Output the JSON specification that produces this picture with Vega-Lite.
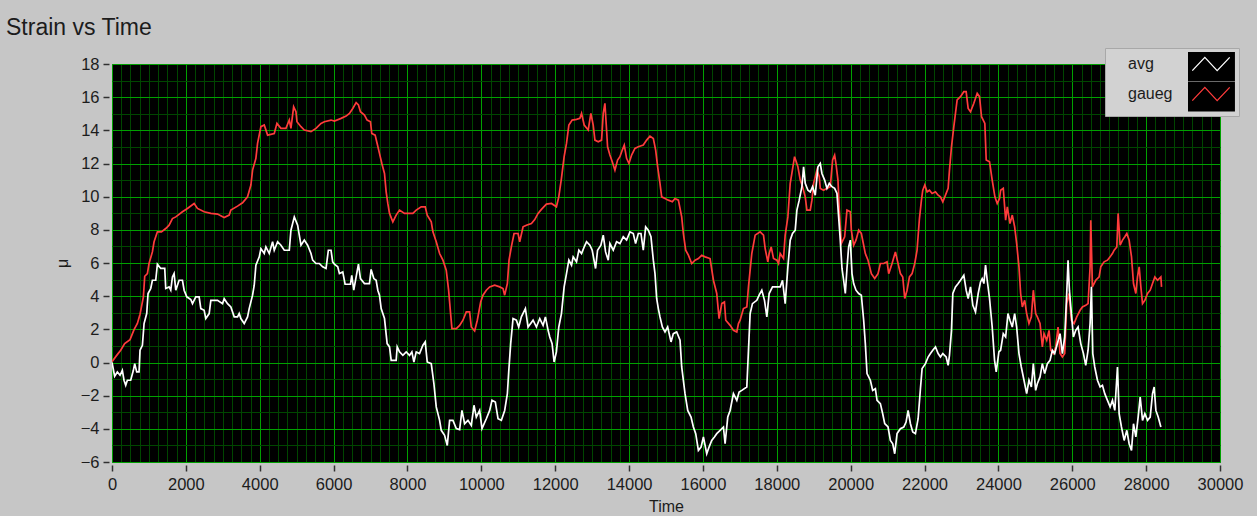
{
"$schema": "https://vega.github.io/schema/vega-lite/v6.json",
"width": 1108, "height": 398,
"autosize": {"type": "none"},
"padding": {"left": 112, "top": 64, "right": 37, "bottom": 54},
"background": "#c6c6c6",
"title": {"text": "Strain vs Time", "anchor": "start", "frame": "group", "dx": -106, "offset": 8, "fontSize": 23, "fontWeight": "normal", "color": "#1c1c1c", "font": "Liberation Sans"},
"config": {"view": {"fill": "black", "stroke": "#505050", "strokeWidth": 1}, "font": "Liberation Sans"},
"data": {"values": [
{"t":0,"v":0.05,"s":"gaueg"},{"t":127,"v":0.43,"s":"gaueg"},{"t":235,"v":0.74,"s":"gaueg"},{"t":343,"v":1.14,"s":"gaueg"},{"t":488,"v":1.38,"s":"gaueg"},{"t":597,"v":1.98,"s":"gaueg"},{"t":687,"v":2.35,"s":"gaueg"},{"t":759,"v":2.91,"s":"gaueg"},{"t":850,"v":3.96,"s":"gaueg"},{"t":886,"v":5.2,"s":"gaueg"},{"t":958,"v":5.36,"s":"gaueg"},{"t":1003,"v":5.97,"s":"gaueg"},{"t":1094,"v":6.67,"s":"gaueg"},{"t":1139,"v":7.28,"s":"gaueg"},{"t":1229,"v":7.88,"s":"gaueg"},{"t":1338,"v":7.88,"s":"gaueg"},{"t":1455,"v":8.08,"s":"gaueg"},{"t":1546,"v":8.28,"s":"gaueg"},{"t":1636,"v":8.68,"s":"gaueg"},{"t":1727,"v":8.78,"s":"gaueg"},{"t":1907,"v":9.09,"s":"gaueg"},{"t":2043,"v":9.29,"s":"gaueg"},{"t":2224,"v":9.59,"s":"gaueg"},{"t":2314,"v":9.29,"s":"gaueg"},{"t":2495,"v":9.09,"s":"gaueg"},{"t":2676,"v":8.99,"s":"gaueg"},{"t":2857,"v":8.95,"s":"gaueg"},{"t":3037,"v":8.74,"s":"gaueg"},{"t":3173,"v":8.89,"s":"gaueg"},{"t":3218,"v":9.19,"s":"gaueg"},{"t":3399,"v":9.43,"s":"gaueg"},{"t":3535,"v":9.63,"s":"gaueg"},{"t":3670,"v":9.99,"s":"gaueg"},{"t":3761,"v":10.7,"s":"gaueg"},{"t":3806,"v":11.6,"s":"gaueg"},{"t":3896,"v":12.31,"s":"gaueg"},{"t":3941,"v":13.21,"s":"gaueg"},{"t":4032,"v":14.22,"s":"gaueg"},{"t":4122,"v":14.32,"s":"gaueg"},{"t":4213,"v":13.71,"s":"gaueg"},{"t":4393,"v":13.81,"s":"gaueg"},{"t":4466,"v":14.42,"s":"gaueg"},{"t":4574,"v":14.12,"s":"gaueg"},{"t":4710,"v":14.12,"s":"gaueg"},{"t":4800,"v":14.62,"s":"gaueg"},{"t":4845,"v":14.12,"s":"gaueg"},{"t":4918,"v":15.42,"s":"gaueg"},{"t":4981,"v":15.12,"s":"gaueg"},{"t":5008,"v":14.52,"s":"gaueg"},{"t":5117,"v":14.22,"s":"gaueg"},{"t":5207,"v":14.02,"s":"gaueg"},{"t":5388,"v":13.92,"s":"gaueg"},{"t":5523,"v":14.12,"s":"gaueg"},{"t":5659,"v":14.42,"s":"gaueg"},{"t":5749,"v":14.52,"s":"gaueg"},{"t":5930,"v":14.62,"s":"gaueg"},
{"t":6022,"v":14.56,"s":"gaueg"},{"t":6203,"v":14.72,"s":"gaueg"},{"t":6338,"v":14.86,"s":"gaueg"},{"t":6429,"v":15.02,"s":"gaueg"},{"t":6519,"v":15.32,"s":"gaueg"},{"t":6610,"v":15.67,"s":"gaueg"},{"t":6673,"v":15.53,"s":"gaueg"},{"t":6727,"v":15.12,"s":"gaueg"},{"t":6836,"v":14.92,"s":"gaueg"},{"t":6908,"v":14.62,"s":"gaueg"},{"t":6998,"v":14.52,"s":"gaueg"},{"t":7034,"v":13.81,"s":"gaueg"},{"t":7125,"v":13.71,"s":"gaueg"},{"t":7179,"v":13.21,"s":"gaueg"},{"t":7242,"v":12.61,"s":"gaueg"},{"t":7306,"v":12.0,"s":"gaueg"},{"t":7378,"v":11.4,"s":"gaueg"},{"t":7423,"v":10.29,"s":"gaueg"},{"t":7468,"v":9.59,"s":"gaueg"},{"t":7514,"v":8.99,"s":"gaueg"},{"t":7604,"v":8.48,"s":"gaueg"},{"t":7694,"v":8.89,"s":"gaueg"},{"t":7785,"v":9.19,"s":"gaueg"},{"t":7920,"v":8.99,"s":"gaueg"},{"t":8146,"v":8.99,"s":"gaueg"},{"t":8237,"v":9.19,"s":"gaueg"},{"t":8372,"v":9.39,"s":"gaueg"},{"t":8481,"v":9.39,"s":"gaueg"},{"t":8535,"v":8.89,"s":"gaueg"},{"t":8644,"v":8.48,"s":"gaueg"},{"t":8689,"v":7.88,"s":"gaueg"},{"t":8779,"v":7.28,"s":"gaueg"},{"t":8870,"v":6.57,"s":"gaueg"},{"t":8960,"v":6.17,"s":"gaueg"},{"t":9050,"v":5.57,"s":"gaueg"},{"t":9114,"v":4.36,"s":"gaueg"},{"t":9168,"v":2.95,"s":"gaueg"},{"t":9204,"v":2.04,"s":"gaueg"},{"t":9322,"v":2.04,"s":"gaueg"},{"t":9412,"v":2.24,"s":"gaueg"},{"t":9502,"v":2.55,"s":"gaueg"},{"t":9593,"v":3.05,"s":"gaueg"},{"t":9683,"v":3.05,"s":"gaueg"},{"t":9728,"v":2.14,"s":"gaueg"},{"t":9819,"v":1.9,"s":"gaueg"},{"t":9891,"v":2.55,"s":"gaueg"},{"t":9982,"v":3.65,"s":"gaueg"},{"t":10045,"v":4.06,"s":"gaueg"},{"t":10135,"v":4.36,"s":"gaueg"},{"t":10226,"v":4.56,"s":"gaueg"},{"t":10361,"v":4.66,"s":"gaueg"},{"t":10497,"v":4.56,"s":"gaueg"},{"t":10587,"v":4.46,"s":"gaueg"},{"t":10632,"v":4.06,"s":"gaueg"},{"t":10705,"v":4.76,"s":"gaueg"},{"t":10750,"v":6.17,"s":"gaueg"},{"t":10813,"v":6.97,"s":"gaueg"},{"t":10886,"v":7.78,"s":"gaueg"},{"t":10994,"v":7.78,"s":"gaueg"},{"t":11039,"v":7.28,"s":"gaueg"},{"t":11130,"v":8.18,"s":"gaueg"},{"t":11220,"v":8.28,"s":"gaueg"},{"t":11356,"v":8.38,"s":"gaueg"},{"t":11446,"v":8.62,"s":"gaueg"},{"t":11536,"v":8.99,"s":"gaueg"},{"t":11627,"v":9.23,"s":"gaueg"},{"t":11762,"v":9.55,"s":"gaueg"},{"t":11898,"v":9.59,"s":"gaueg"},{"t":12033,"v":9.39,"s":"gaueg"},{"t":12097,"v":9.99,"s":"gaueg"},{"t":12169,"v":11.1,"s":"gaueg"},{"t":12242,"v":12.41,"s":"gaueg"},
{"t":12306,"v":13.21,"s":"gaueg"},{"t":12370,"v":14.32,"s":"gaueg"},{"t":12460,"v":14.62,"s":"gaueg"},{"t":12577,"v":14.66,"s":"gaueg"},{"t":12668,"v":14.72,"s":"gaueg"},{"t":12713,"v":15.02,"s":"gaueg"},{"t":12785,"v":14.32,"s":"gaueg"},{"t":12894,"v":14.02,"s":"gaueg"},{"t":12966,"v":15.02,"s":"gaueg"},{"t":13029,"v":14.32,"s":"gaueg"},{"t":13075,"v":13.41,"s":"gaueg"},{"t":13165,"v":13.31,"s":"gaueg"},{"t":13255,"v":13.41,"s":"gaueg"},{"t":13301,"v":15.02,"s":"gaueg"},{"t":13346,"v":15.63,"s":"gaueg"},{"t":13391,"v":14.02,"s":"gaueg"},{"t":13418,"v":13.01,"s":"gaueg"},{"t":13481,"v":12.51,"s":"gaueg"},{"t":13545,"v":12.1,"s":"gaueg"},{"t":13617,"v":11.6,"s":"gaueg"},{"t":13689,"v":12.21,"s":"gaueg"},{"t":13753,"v":12.41,"s":"gaueg"},{"t":13816,"v":12.81,"s":"gaueg"},{"t":13870,"v":13.11,"s":"gaueg"},{"t":13933,"v":12.31,"s":"gaueg"},{"t":13997,"v":12.0,"s":"gaueg"},{"t":14069,"v":12.51,"s":"gaueg"},{"t":14159,"v":12.91,"s":"gaueg"},{"t":14250,"v":13.01,"s":"gaueg"},{"t":14385,"v":13.11,"s":"gaueg"},{"t":14476,"v":13.41,"s":"gaueg"},{"t":14566,"v":13.65,"s":"gaueg"},{"t":14657,"v":13.51,"s":"gaueg"},{"t":14720,"v":12.81,"s":"gaueg"},{"t":14774,"v":11.8,"s":"gaueg"},{"t":14837,"v":10.8,"s":"gaueg"},{"t":14883,"v":9.99,"s":"gaueg"},{"t":14973,"v":9.89,"s":"gaueg"},{"t":15063,"v":9.79,"s":"gaueg"},{"t":15172,"v":9.69,"s":"gaueg"},{"t":15244,"v":9.89,"s":"gaueg"},{"t":15335,"v":9.79,"s":"gaueg"},{"t":15425,"v":8.78,"s":"gaueg"},{"t":15470,"v":7.78,"s":"gaueg"},{"t":15533,"v":6.77,"s":"gaueg"},{"t":15606,"v":6.47,"s":"gaueg"},{"t":15696,"v":5.97,"s":"gaueg"},{"t":15787,"v":6.17,"s":"gaueg"},{"t":15877,"v":6.27,"s":"gaueg"},{"t":15967,"v":6.47,"s":"gaueg"},{"t":16058,"v":6.37,"s":"gaueg"},{"t":16193,"v":6.27,"s":"gaueg"},{"t":16284,"v":4.96,"s":"gaueg"},{"t":16374,"v":4.16,"s":"gaueg"},{"t":16437,"v":2.65,"s":"gaueg"},{"t":16510,"v":3.55,"s":"gaueg"},{"t":16582,"v":3.65,"s":"gaueg"},{"t":16618,"v":2.55,"s":"gaueg"},{"t":16736,"v":2.24,"s":"gaueg"},{"t":16826,"v":1.94,"s":"gaueg"},{"t":16917,"v":1.84,"s":"gaueg"},{"t":16962,"v":2.35,"s":"gaueg"},{"t":17007,"v":2.55,"s":"gaueg"},{"t":17097,"v":3.25,"s":"gaueg"},{"t":17188,"v":3.35,"s":"gaueg"},{"t":17233,"v":4.56,"s":"gaueg"},{"t":17323,"v":6.57,"s":"gaueg"},{"t":17414,"v":7.68,"s":"gaueg"},{"t":17549,"v":7.88,"s":"gaueg"},{"t":17640,"v":7.68,"s":"gaueg"},{"t":17685,"v":6.87,"s":"gaueg"},{"t":17757,"v":6.07,"s":"gaueg"},{"t":17793,"v":6.57,"s":"gaueg"},{"t":17848,"v":6.97,"s":"gaueg"},{"t":17911,"v":6.27,"s":"gaueg"},{"t":18001,"v":6.17,"s":"gaueg"},{"t":18047,"v":5.97,"s":"gaueg"},{"t":18092,"v":6.57,"s":"gaueg"},{"t":18182,"v":6.27,"s":"gaueg"},{"t":18227,"v":7.68,"s":"gaueg"},{"t":18300,"v":8.78,"s":"gaueg"},{"t":18363,"v":10.8,"s":"gaueg"},{"t":18408,"v":11.4,"s":"gaueg"},{"t":18481,"v":12.41,"s":"gaueg"},
{"t":18571,"v":11.8,"s":"gaueg"},{"t":18635,"v":11.0,"s":"gaueg"},{"t":18698,"v":10.6,"s":"gaueg"},{"t":18770,"v":9.99,"s":"gaueg"},{"t":18815,"v":9.19,"s":"gaueg"},{"t":18906,"v":9.19,"s":"gaueg"},{"t":18951,"v":9.79,"s":"gaueg"},{"t":18996,"v":10.8,"s":"gaueg"},{"t":19087,"v":11.6,"s":"gaueg"},{"t":19150,"v":11.2,"s":"gaueg"},{"t":19177,"v":10.5,"s":"gaueg"},{"t":19267,"v":10.39,"s":"gaueg"},{"t":19358,"v":10.5,"s":"gaueg"},{"t":19448,"v":10.6,"s":"gaueg"},{"t":19511,"v":12.21,"s":"gaueg"},{"t":19566,"v":12.51,"s":"gaueg"},{"t":19602,"v":12.0,"s":"gaueg"},{"t":19656,"v":11.0,"s":"gaueg"},{"t":19692,"v":9.19,"s":"gaueg"},{"t":19747,"v":7.18,"s":"gaueg"},{"t":19837,"v":7.58,"s":"gaueg"},{"t":19900,"v":9.19,"s":"gaueg"},{"t":19991,"v":9.09,"s":"gaueg"},{"t":20018,"v":7.98,"s":"gaueg"},{"t":20081,"v":7.07,"s":"gaueg"},{"t":20144,"v":7.38,"s":"gaueg"},{"t":20217,"v":7.98,"s":"gaueg"},{"t":20289,"v":7.78,"s":"gaueg"},{"t":20352,"v":7.07,"s":"gaueg"},{"t":20397,"v":6.57,"s":"gaueg"},{"t":20470,"v":6.17,"s":"gaueg"},{"t":20560,"v":5.36,"s":"gaueg"},{"t":20651,"v":5.06,"s":"gaueg"},{"t":20741,"v":5.36,"s":"gaueg"},{"t":20804,"v":5.97,"s":"gaueg"},{"t":20895,"v":5.97,"s":"gaueg"},{"t":20985,"v":6.07,"s":"gaueg"},{"t":21030,"v":5.36,"s":"gaueg"},{"t":21121,"v":5.97,"s":"gaueg"},{"t":21211,"v":6.67,"s":"gaueg"},{"t":21283,"v":5.97,"s":"gaueg"},{"t":21347,"v":5.36,"s":"gaueg"},{"t":21410,"v":5.16,"s":"gaueg"},{"t":21464,"v":3.86,"s":"gaueg"},{"t":21527,"v":4.36,"s":"gaueg"},{"t":21591,"v":5.16,"s":"gaueg"},{"t":21663,"v":5.36,"s":"gaueg"},{"t":21735,"v":5.97,"s":"gaueg"},{"t":21798,"v":6.77,"s":"gaueg"},{"t":21862,"v":8.68,"s":"gaueg"},{"t":21916,"v":9.79,"s":"gaueg"},{"t":21952,"v":10.39,"s":"gaueg"},{"t":22007,"v":10.7,"s":"gaueg"},{"t":22070,"v":10.29,"s":"gaueg"},{"t":22133,"v":10.39,"s":"gaueg"},{"t":22205,"v":10.19,"s":"gaueg"},{"t":22296,"v":10.29,"s":"gaueg"},{"t":22368,"v":10.09,"s":"gaueg"},{"t":22431,"v":9.99,"s":"gaueg"},{"t":22495,"v":9.69,"s":"gaueg"},{"t":22567,"v":10.09,"s":"gaueg"},{"t":22639,"v":10.5,"s":"gaueg"},{"t":22675,"v":11.6,"s":"gaueg"},{"t":22730,"v":13.01,"s":"gaueg"},{"t":22793,"v":14.22,"s":"gaueg"},{"t":22883,"v":15.83,"s":"gaueg"},{"t":22973,"v":16.03,"s":"gaueg"},{"t":23064,"v":16.33,"s":"gaueg"},{"t":23127,"v":16.33,"s":"gaueg"},{"t":23181,"v":15.32,"s":"gaueg"},{"t":23245,"v":15.12,"s":"gaueg"},{"t":23335,"v":15.63,"s":"gaueg"},{"t":23426,"v":16.23,"s":"gaueg"},{"t":23489,"v":16.03,"s":"gaueg"},{"t":23543,"v":14.82,"s":"gaueg"},{"t":23633,"v":14.42,"s":"gaueg"},{"t":23670,"v":12.21,"s":"gaueg"},{"t":23760,"v":12.1,"s":"gaueg"},{"t":23832,"v":11.0,"s":"gaueg"},{"t":23905,"v":9.99,"s":"gaueg"},{"t":23968,"v":9.59,"s":"gaueg"},{"t":24031,"v":9.89,"s":"gaueg"},
{"t":24060,"v":10.39,"s":"gaueg"},{"t":24132,"v":10.5,"s":"gaueg"},{"t":24196,"v":8.58,"s":"gaueg"},{"t":24241,"v":9.39,"s":"gaueg"},{"t":24313,"v":8.38,"s":"gaueg"},{"t":24376,"v":8.89,"s":"gaueg"},{"t":24440,"v":8.18,"s":"gaueg"},{"t":24494,"v":7.18,"s":"gaueg"},{"t":24557,"v":5.77,"s":"gaueg"},{"t":24602,"v":4.16,"s":"gaueg"},{"t":24648,"v":3.35,"s":"gaueg"},{"t":24711,"v":3.75,"s":"gaueg"},{"t":24765,"v":2.95,"s":"gaueg"},{"t":24828,"v":2.35,"s":"gaueg"},{"t":24892,"v":2.75,"s":"gaueg"},{"t":24946,"v":4.36,"s":"gaueg"},{"t":25009,"v":2.95,"s":"gaueg"},{"t":25054,"v":2.75,"s":"gaueg"},{"t":25127,"v":2.35,"s":"gaueg"},{"t":25190,"v":0.94,"s":"gaueg"},{"t":25235,"v":1.74,"s":"gaueg"},{"t":25308,"v":1.34,"s":"gaueg"},{"t":25371,"v":1.94,"s":"gaueg"},{"t":25416,"v":0.74,"s":"gaueg"},{"t":25488,"v":0.54,"s":"gaueg"},{"t":25552,"v":0.94,"s":"gaueg"},{"t":25615,"v":2.14,"s":"gaueg"},{"t":25669,"v":0.54,"s":"gaueg"},{"t":25732,"v":0.33,"s":"gaueg"},{"t":25796,"v":0.54,"s":"gaueg"},{"t":25850,"v":3.55,"s":"gaueg"},{"t":25913,"v":4.16,"s":"gaueg"},{"t":25976,"v":2.55,"s":"gaueg"},{"t":26049,"v":2.35,"s":"gaueg"},{"t":26121,"v":2.75,"s":"gaueg"},{"t":26212,"v":3.15,"s":"gaueg"},{"t":26275,"v":3.35,"s":"gaueg"},{"t":26365,"v":3.45,"s":"gaueg"},{"t":26428,"v":3.55,"s":"gaueg"},{"t":26483,"v":5.77,"s":"gaueg"},{"t":26501,"v":8.58,"s":"gaueg"},{"t":26546,"v":4.56,"s":"gaueg"},{"t":26636,"v":4.96,"s":"gaueg"},{"t":26727,"v":5.16,"s":"gaueg"},{"t":26772,"v":5.77,"s":"gaueg"},{"t":26862,"v":6.07,"s":"gaueg"},{"t":26953,"v":6.17,"s":"gaueg"},{"t":27025,"v":6.37,"s":"gaueg"},{"t":27088,"v":6.57,"s":"gaueg"},{"t":27134,"v":6.77,"s":"gaueg"},{"t":27206,"v":6.97,"s":"gaueg"},{"t":27242,"v":8.99,"s":"gaueg"},{"t":27296,"v":7.07,"s":"gaueg"},{"t":27360,"v":7.38,"s":"gaueg"},{"t":27423,"v":7.58,"s":"gaueg"},{"t":27477,"v":7.78,"s":"gaueg"},{"t":27540,"v":7.38,"s":"gaueg"},{"t":27604,"v":6.37,"s":"gaueg"},{"t":27658,"v":4.76,"s":"gaueg"},{"t":27721,"v":4.16,"s":"gaueg"},{"t":27766,"v":5.16,"s":"gaueg"},{"t":27812,"v":5.77,"s":"gaueg"},{"t":27857,"v":4.56,"s":"gaueg"},{"t":27902,"v":3.55,"s":"gaueg"},{"t":27965,"v":3.75,"s":"gaueg"},{"t":28038,"v":4.16,"s":"gaueg"},{"t":28110,"v":4.36,"s":"gaueg"},{"t":28173,"v":4.76,"s":"gaueg"},{"t":28236,"v":5.16,"s":"gaueg"},{"t":28309,"v":4.96,"s":"gaueg"},{"t":28399,"v":5.16,"s":"gaueg"},{"t":28417,"v":4.56,"s":"gaueg"},
{"t":0,"v":0.0,"s":"avg"},{"t":72,"v":-0.83,"s":"avg"},{"t":145,"v":-0.57,"s":"avg"},{"t":217,"v":-0.77,"s":"avg"},{"t":280,"v":-0.47,"s":"avg"},{"t":325,"v":-1.07,"s":"avg"},{"t":371,"v":-1.38,"s":"avg"},{"t":416,"v":-1.07,"s":"avg"},{"t":506,"v":-1.07,"s":"avg"},{"t":579,"v":-0.47,"s":"avg"},{"t":615,"v":-0.07,"s":"avg"},{"t":669,"v":-0.57,"s":"avg"},{"t":732,"v":-0.57,"s":"avg"},{"t":759,"v":0.74,"s":"avg"},{"t":823,"v":1.04,"s":"avg"},{"t":868,"v":2.35,"s":"avg"},{"t":940,"v":2.95,"s":"avg"},{"t":976,"v":4.16,"s":"avg"},{"t":1049,"v":4.46,"s":"avg"},{"t":1094,"v":4.96,"s":"avg"},{"t":1184,"v":4.96,"s":"avg"},{"t":1229,"v":5.93,"s":"avg"},{"t":1320,"v":5.67,"s":"avg"},{"t":1428,"v":5.67,"s":"avg"},{"t":1455,"v":4.46,"s":"avg"},{"t":1546,"v":4.56,"s":"avg"},{"t":1591,"v":4.36,"s":"avg"},{"t":1636,"v":5.16,"s":"avg"},{"t":1681,"v":5.36,"s":"avg"},{"t":1727,"v":4.36,"s":"avg"},{"t":1817,"v":4.96,"s":"avg"},{"t":1907,"v":4.96,"s":"avg"},{"t":1953,"v":4.36,"s":"avg"},{"t":2025,"v":3.96,"s":"avg"},{"t":2133,"v":3.8,"s":"avg"},{"t":2179,"v":3.55,"s":"avg"},{"t":2269,"v":3.96,"s":"avg"},{"t":2359,"v":3.96,"s":"avg"},{"t":2405,"v":3.25,"s":"avg"},{"t":2495,"v":3.15,"s":"avg"},{"t":2540,"v":2.65,"s":"avg"},{"t":2631,"v":2.95,"s":"avg"},{"t":2676,"v":3.75,"s":"avg"},{"t":2857,"v":3.75,"s":"avg"},{"t":2993,"v":3.55,"s":"avg"},{"t":3038,"v":3.85,"s":"avg"},{"t":3128,"v":3.55,"s":"avg"},{"t":3218,"v":3.35,"s":"avg"},{"t":3309,"v":2.75,"s":"avg"},{"t":3399,"v":2.75,"s":"avg"},{"t":3444,"v":2.95,"s":"avg"},{"t":3489,"v":2.65,"s":"avg"},{"t":3580,"v":2.35,"s":"avg"},{"t":3670,"v":2.75,"s":"avg"},{"t":3715,"v":3.25,"s":"avg"},{"t":3806,"v":4.06,"s":"avg"},{"t":3851,"v":4.66,"s":"avg"},{"t":3896,"v":5.87,"s":"avg"},{"t":3987,"v":6.37,"s":"avg"},{"t":4032,"v":6.87,"s":"avg"},{"t":4122,"v":6.57,"s":"avg"},{"t":4167,"v":6.97,"s":"avg"},{"t":4258,"v":6.57,"s":"avg"},{"t":4348,"v":7.28,"s":"avg"},{"t":4393,"v":6.77,"s":"avg"},{"t":4484,"v":7.28,"s":"avg"},{"t":4574,"v":7.07,"s":"avg"},{"t":4665,"v":6.77,"s":"avg"},{"t":4800,"v":6.77,"s":"avg"},{"t":4845,"v":7.98,"s":"avg"},{"t":4891,"v":8.38,"s":"avg"},{"t":4936,"v":8.78,"s":"avg"},{"t":5026,"v":8.28,"s":"avg"},{"t":5071,"v":7.68,"s":"avg"},{"t":5117,"v":7.07,"s":"avg"},{"t":5207,"v":7.38,"s":"avg"},{"t":5297,"v":7.07,"s":"avg"},{"t":5388,"v":6.57,"s":"avg"},{"t":5433,"v":6.17,"s":"avg"},{"t":5523,"v":5.97,"s":"avg"},{"t":5614,"v":5.97,"s":"avg"},{"t":5704,"v":5.77,"s":"avg"},{"t":5795,"v":5.67,"s":"avg"},{"t":5858,"v":6.77,"s":"avg"},{"t":5930,"v":6.77,"s":"avg"},{"t":5975,"v":6.07,"s":"avg"},
{"t":6022,"v":5.93,"s":"avg"},{"t":6112,"v":5.77,"s":"avg"},{"t":6158,"v":5.36,"s":"avg"},{"t":6248,"v":5.46,"s":"avg"},{"t":6311,"v":4.72,"s":"avg"},{"t":6456,"v":4.72,"s":"avg"},{"t":6492,"v":5.26,"s":"avg"},{"t":6546,"v":4.36,"s":"avg"},{"t":6610,"v":5.16,"s":"avg"},{"t":6673,"v":5.93,"s":"avg"},{"t":6727,"v":5.06,"s":"avg"},{"t":6836,"v":4.76,"s":"avg"},{"t":6971,"v":4.76,"s":"avg"},{"t":7016,"v":5.61,"s":"avg"},{"t":7089,"v":5.06,"s":"avg"},{"t":7152,"v":4.96,"s":"avg"},{"t":7197,"v":4.36,"s":"avg"},{"t":7242,"v":4.06,"s":"avg"},{"t":7288,"v":3.25,"s":"avg"},{"t":7378,"v":2.65,"s":"avg"},{"t":7450,"v":1.14,"s":"avg"},{"t":7514,"v":0.94,"s":"avg"},{"t":7559,"v":0.13,"s":"avg"},{"t":7694,"v":0.13,"s":"avg"},{"t":7722,"v":0.94,"s":"avg"},{"t":7785,"v":0.64,"s":"avg"},{"t":7875,"v":0.43,"s":"avg"},{"t":7966,"v":0.64,"s":"avg"},{"t":8056,"v":0.43,"s":"avg"},{"t":8119,"v":0.64,"s":"avg"},{"t":8174,"v":0.03,"s":"avg"},{"t":8237,"v":0.64,"s":"avg"},{"t":8327,"v":0.54,"s":"avg"},{"t":8418,"v":1.04,"s":"avg"},{"t":8481,"v":1.24,"s":"avg"},{"t":8535,"v":0.03,"s":"avg"},{"t":8644,"v":-0.07,"s":"avg"},{"t":8716,"v":-1.28,"s":"avg"},{"t":8779,"v":-2.68,"s":"avg"},{"t":8870,"v":-3.49,"s":"avg"},{"t":8915,"v":-4.09,"s":"avg"},{"t":9005,"v":-4.39,"s":"avg"},{"t":9078,"v":-5.0,"s":"avg"},{"t":9141,"v":-3.49,"s":"avg"},{"t":9231,"v":-3.49,"s":"avg"},{"t":9322,"v":-3.99,"s":"avg"},{"t":9412,"v":-4.05,"s":"avg"},{"t":9475,"v":-2.89,"s":"avg"},{"t":9548,"v":-3.69,"s":"avg"},{"t":9638,"v":-3.49,"s":"avg"},{"t":9728,"v":-3.79,"s":"avg"},{"t":9801,"v":-2.58,"s":"avg"},{"t":9864,"v":-3.29,"s":"avg"},{"t":9954,"v":-2.89,"s":"avg"},{"t":10018,"v":-3.99,"s":"avg"},{"t":10135,"v":-3.39,"s":"avg"},{"t":10226,"v":-2.89,"s":"avg"},{"t":10289,"v":-2.28,"s":"avg"},{"t":10379,"v":-2.38,"s":"avg"},{"t":10452,"v":-3.39,"s":"avg"},{"t":10542,"v":-3.49,"s":"avg"},{"t":10632,"v":-2.89,"s":"avg"},{"t":10705,"v":-1.88,"s":"avg"},{"t":10741,"v":-0.57,"s":"avg"},{"t":10795,"v":1.14,"s":"avg"},{"t":10858,"v":2.65,"s":"avg"},{"t":10949,"v":2.55,"s":"avg"},{"t":11012,"v":2.14,"s":"avg"},{"t":11084,"v":2.75,"s":"avg"},{"t":11193,"v":3.25,"s":"avg"},{"t":11265,"v":2.14,"s":"avg"},{"t":11401,"v":2.55,"s":"avg"},{"t":11491,"v":2.14,"s":"avg"},{"t":11582,"v":2.65,"s":"avg"},{"t":11672,"v":2.24,"s":"avg"},{"t":11735,"v":2.75,"s":"avg"},{"t":11808,"v":1.94,"s":"avg"},{"t":11853,"v":1.54,"s":"avg"},{"t":11916,"v":1.14,"s":"avg"},{"t":11970,"v":0.03,"s":"avg"},{"t":12033,"v":0.64,"s":"avg"},{"t":12097,"v":2.14,"s":"avg"},{"t":12169,"v":2.95,"s":"avg"},{"t":12242,"v":4.56,"s":"avg"},
{"t":12306,"v":5.36,"s":"avg"},{"t":12370,"v":6.17,"s":"avg"},{"t":12442,"v":5.87,"s":"avg"},{"t":12487,"v":6.37,"s":"avg"},{"t":12577,"v":6.07,"s":"avg"},{"t":12641,"v":6.77,"s":"avg"},{"t":12713,"v":6.57,"s":"avg"},{"t":12785,"v":6.97,"s":"avg"},{"t":12849,"v":7.28,"s":"avg"},{"t":12939,"v":7.07,"s":"avg"},{"t":13002,"v":6.77,"s":"avg"},{"t":13093,"v":5.67,"s":"avg"},{"t":13147,"v":6.77,"s":"avg"},{"t":13237,"v":7.07,"s":"avg"},{"t":13301,"v":7.68,"s":"avg"},{"t":13364,"v":6.67,"s":"avg"},{"t":13436,"v":6.17,"s":"avg"},{"t":13481,"v":7.17,"s":"avg"},{"t":13572,"v":6.77,"s":"avg"},{"t":13662,"v":7.28,"s":"avg"},{"t":13753,"v":7.17,"s":"avg"},{"t":13843,"v":7.58,"s":"avg"},{"t":13933,"v":7.38,"s":"avg"},{"t":14024,"v":7.88,"s":"avg"},{"t":14114,"v":7.78,"s":"avg"},{"t":14177,"v":7.17,"s":"avg"},{"t":14250,"v":7.78,"s":"avg"},{"t":14322,"v":7.78,"s":"avg"},{"t":14385,"v":6.77,"s":"avg"},{"t":14449,"v":8.18,"s":"avg"},{"t":14521,"v":7.98,"s":"avg"},{"t":14593,"v":7.58,"s":"avg"},{"t":14657,"v":6.17,"s":"avg"},{"t":14702,"v":5.36,"s":"avg"},{"t":14747,"v":3.86,"s":"avg"},{"t":14792,"v":3.25,"s":"avg"},{"t":14837,"v":2.75,"s":"avg"},{"t":14901,"v":2.14,"s":"avg"},{"t":14973,"v":1.84,"s":"avg"},{"t":15045,"v":2.14,"s":"avg"},{"t":15136,"v":1.24,"s":"avg"},{"t":15199,"v":1.74,"s":"avg"},{"t":15289,"v":1.84,"s":"avg"},{"t":15380,"v":1.34,"s":"avg"},{"t":15425,"v":-0.27,"s":"avg"},{"t":15515,"v":-1.88,"s":"avg"},{"t":15588,"v":-2.89,"s":"avg"},{"t":15678,"v":-3.29,"s":"avg"},{"t":15741,"v":-3.89,"s":"avg"},{"t":15805,"v":-4.29,"s":"avg"},{"t":15877,"v":-5.3,"s":"avg"},{"t":15949,"v":-5.1,"s":"avg"},{"t":16013,"v":-4.49,"s":"avg"},{"t":16103,"v":-5.5,"s":"avg"},{"t":16166,"v":-5.1,"s":"avg"},{"t":16238,"v":-4.7,"s":"avg"},{"t":16311,"v":-4.49,"s":"avg"},{"t":16374,"v":-4.29,"s":"avg"},{"t":16465,"v":-4.09,"s":"avg"},{"t":16555,"v":-3.89,"s":"avg"},{"t":16600,"v":-4.9,"s":"avg"},{"t":16672,"v":-3.29,"s":"avg"},{"t":16736,"v":-2.89,"s":"avg"},{"t":16826,"v":-1.88,"s":"avg"},{"t":16917,"v":-2.28,"s":"avg"},{"t":16980,"v":-1.78,"s":"avg"},{"t":17052,"v":-1.68,"s":"avg"},{"t":17188,"v":-1.48,"s":"avg"},{"t":17233,"v":0.74,"s":"avg"},{"t":17278,"v":2.95,"s":"avg"},{"t":17341,"v":3.55,"s":"avg"},{"t":17459,"v":3.75,"s":"avg"},{"t":17522,"v":4.06,"s":"avg"},{"t":17594,"v":4.36,"s":"avg"},{"t":17667,"v":3.75,"s":"avg"},{"t":17730,"v":2.75,"s":"avg"},{"t":17793,"v":4.16,"s":"avg"},{"t":17884,"v":4.56,"s":"avg"},{"t":17956,"v":4.56,"s":"avg"},{"t":18092,"v":4.56,"s":"avg"},{"t":18155,"v":4.96,"s":"avg"},{"t":18227,"v":3.55,"s":"avg"},{"t":18300,"v":5.77,"s":"avg"},{"t":18363,"v":7.38,"s":"avg"},{"t":18426,"v":7.78,"s":"avg"},
{"t":18499,"v":7.98,"s":"avg"},{"t":18544,"v":9.19,"s":"avg"},{"t":18607,"v":9.79,"s":"avg"},{"t":18680,"v":10.6,"s":"avg"},{"t":18725,"v":11.8,"s":"avg"},{"t":18770,"v":10.8,"s":"avg"},{"t":18842,"v":10.39,"s":"avg"},{"t":18906,"v":10.29,"s":"avg"},{"t":18969,"v":10.6,"s":"avg"},{"t":19041,"v":10.09,"s":"avg"},{"t":19114,"v":11.8,"s":"avg"},{"t":19177,"v":12.0,"s":"avg"},{"t":19222,"v":11.4,"s":"avg"},{"t":19295,"v":11.0,"s":"avg"},{"t":19358,"v":10.5,"s":"avg"},{"t":19421,"v":10.8,"s":"avg"},{"t":19493,"v":10.6,"s":"avg"},{"t":19566,"v":10.5,"s":"avg"},{"t":19629,"v":10.19,"s":"avg"},{"t":19674,"v":8.78,"s":"avg"},{"t":19719,"v":7.38,"s":"avg"},{"t":19765,"v":5.67,"s":"avg"},{"t":19810,"v":4.96,"s":"avg"},{"t":19855,"v":4.16,"s":"avg"},{"t":19900,"v":5.67,"s":"avg"},{"t":19945,"v":6.97,"s":"avg"},{"t":19991,"v":7.38,"s":"avg"},{"t":20036,"v":5.36,"s":"avg"},{"t":20081,"v":4.76,"s":"avg"},{"t":20144,"v":4.36,"s":"avg"},{"t":20217,"v":4.16,"s":"avg"},{"t":20289,"v":4.06,"s":"avg"},{"t":20352,"v":2.55,"s":"avg"},{"t":20397,"v":1.14,"s":"avg"},{"t":20443,"v":-0.67,"s":"avg"},{"t":20533,"v":-1.07,"s":"avg"},{"t":20596,"v":-1.68,"s":"avg"},{"t":20669,"v":-1.58,"s":"avg"},{"t":20714,"v":-2.28,"s":"avg"},{"t":20804,"v":-2.48,"s":"avg"},{"t":20867,"v":-3.09,"s":"avg"},{"t":20922,"v":-3.69,"s":"avg"},{"t":21012,"v":-3.89,"s":"avg"},{"t":21075,"v":-4.7,"s":"avg"},{"t":21139,"v":-4.9,"s":"avg"},{"t":21193,"v":-5.5,"s":"avg"},{"t":21256,"v":-4.29,"s":"avg"},{"t":21347,"v":-3.99,"s":"avg"},{"t":21437,"v":-3.89,"s":"avg"},{"t":21500,"v":-3.59,"s":"avg"},{"t":21555,"v":-2.89,"s":"avg"},{"t":21618,"v":-3.69,"s":"avg"},{"t":21681,"v":-4.19,"s":"avg"},{"t":21753,"v":-4.29,"s":"avg"},{"t":21826,"v":-3.39,"s":"avg"},{"t":21889,"v":-1.58,"s":"avg"},{"t":21934,"v":-0.37,"s":"avg"},{"t":22025,"v":-0.07,"s":"avg"},{"t":22097,"v":0.33,"s":"avg"},{"t":22160,"v":0.54,"s":"avg"},{"t":22223,"v":0.74,"s":"avg"},{"t":22296,"v":0.94,"s":"avg"},{"t":22368,"v":0.54,"s":"avg"},{"t":22431,"v":0.33,"s":"avg"},{"t":22495,"v":0.54,"s":"avg"},{"t":22585,"v":0.33,"s":"avg"},{"t":22639,"v":-0.17,"s":"avg"},{"t":22675,"v":0.43,"s":"avg"},{"t":22730,"v":1.94,"s":"avg"},{"t":22766,"v":4.16,"s":"avg"},{"t":22838,"v":4.56,"s":"avg"},{"t":22911,"v":4.76,"s":"avg"},{"t":22974,"v":4.96,"s":"avg"},{"t":23064,"v":5.26,"s":"avg"},{"t":23127,"v":4.36,"s":"avg"},{"t":23181,"v":3.86,"s":"avg"},{"t":23245,"v":4.56,"s":"avg"},{"t":23308,"v":3.45,"s":"avg"},{"t":23380,"v":3.05,"s":"avg"},{"t":23453,"v":4.16,"s":"avg"},{"t":23516,"v":4.86,"s":"avg"},{"t":23561,"v":5.06,"s":"avg"},{"t":23607,"v":4.76,"s":"avg"},{"t":23652,"v":5.87,"s":"avg"},{"t":23697,"v":4.96,"s":"avg"},{"t":23760,"v":3.86,"s":"avg"},{"t":23832,"v":2.14,"s":"avg"},{"t":23896,"v":0.13,"s":"avg"},{"t":23941,"v":-0.57,"s":"avg"},{"t":24013,"v":0.64,"s":"avg"},
{"t":24060,"v":0.74,"s":"avg"},{"t":24132,"v":1.74,"s":"avg"},{"t":24196,"v":1.54,"s":"avg"},{"t":24259,"v":2.95,"s":"avg"},{"t":24313,"v":2.55,"s":"avg"},{"t":24376,"v":2.14,"s":"avg"},{"t":24440,"v":2.95,"s":"avg"},{"t":24494,"v":2.14,"s":"avg"},{"t":24557,"v":0.54,"s":"avg"},{"t":24620,"v":-0.27,"s":"avg"},{"t":24693,"v":-1.07,"s":"avg"},{"t":24765,"v":-1.88,"s":"avg"},{"t":24828,"v":-1.07,"s":"avg"},{"t":24892,"v":-1.48,"s":"avg"},{"t":24946,"v":-0.07,"s":"avg"},{"t":25009,"v":-1.68,"s":"avg"},{"t":25054,"v":-1.28,"s":"avg"},{"t":25127,"v":-0.87,"s":"avg"},{"t":25190,"v":-0.07,"s":"avg"},{"t":25253,"v":-0.67,"s":"avg"},{"t":25326,"v":-0.07,"s":"avg"},{"t":25398,"v":0.13,"s":"avg"},{"t":25461,"v":0.74,"s":"avg"},{"t":25524,"v":0.54,"s":"avg"},{"t":25597,"v":1.14,"s":"avg"},{"t":25669,"v":1.74,"s":"avg"},{"t":25732,"v":0.54,"s":"avg"},{"t":25796,"v":1.54,"s":"avg"},{"t":25850,"v":4.16,"s":"avg"},{"t":25886,"v":6.17,"s":"avg"},{"t":25922,"v":4.36,"s":"avg"},{"t":25976,"v":2.95,"s":"avg"},{"t":26031,"v":1.54,"s":"avg"},{"t":26094,"v":1.94,"s":"avg"},{"t":26157,"v":2.14,"s":"avg"},{"t":26230,"v":1.14,"s":"avg"},{"t":26302,"v":0.54,"s":"avg"},{"t":26365,"v":-0.17,"s":"avg"},{"t":26428,"v":0.74,"s":"avg"},{"t":26483,"v":2.35,"s":"avg"},{"t":26519,"v":4.56,"s":"avg"},{"t":26555,"v":0.54,"s":"avg"},{"t":26609,"v":-0.27,"s":"avg"},{"t":26682,"v":-1.07,"s":"avg"},{"t":26754,"v":-1.48,"s":"avg"},{"t":26817,"v":-1.38,"s":"avg"},{"t":26880,"v":-1.88,"s":"avg"},{"t":26953,"v":-2.28,"s":"avg"},{"t":27025,"v":-2.68,"s":"avg"},{"t":27088,"v":-2.28,"s":"avg"},{"t":27152,"v":-2.89,"s":"avg"},{"t":27224,"v":-0.27,"s":"avg"},{"t":27269,"v":-3.09,"s":"avg"},{"t":27332,"v":-3.89,"s":"avg"},{"t":27405,"v":-4.7,"s":"avg"},{"t":27477,"v":-4.09,"s":"avg"},{"t":27540,"v":-4.9,"s":"avg"},{"t":27604,"v":-5.3,"s":"avg"},{"t":27658,"v":-3.69,"s":"avg"},{"t":27721,"v":-4.49,"s":"avg"},{"t":27784,"v":-3.29,"s":"avg"},{"t":27839,"v":-2.08,"s":"avg"},{"t":27902,"v":-3.49,"s":"avg"},{"t":27965,"v":-3.09,"s":"avg"},{"t":28038,"v":-3.49,"s":"avg"},{"t":28110,"v":-3.29,"s":"avg"},{"t":28173,"v":-1.88,"s":"avg"},{"t":28218,"v":-1.48,"s":"avg"},{"t":28264,"v":-2.89,"s":"avg"},{"t":28327,"v":-3.29,"s":"avg"},{"t":28399,"v":-3.89,"s":"avg"}
]},
"mark": {"type": "line", "strokeWidth": 1.7, "clip": true},
"encoding": {
"x": {"field": "t", "type": "quantitative", "title": "Time",
 "scale": {"domain": [0, 30000], "nice": false, "zero": false},
 "axis": {"values": [0,250,500,750,1000,1250,1500,1750,2000,2250,2500,2750,3000,3250,3500,3750,4000,4250,4500,4750,5000,5250,5500,5750,6000,6250,6500,6750,7000,7250,7500,7750,8000,8250,8500,8750,9000,9250,9500,9750,10000,10250,10500,10750,11000,11250,11500,11750,12000,12250,12500,12750,13000,13250,13500,13750,14000,14250,14500,14750,15000,15250,15500,15750,16000,16250,16500,16750,17000,17250,17500,17750,18000,18250,18500,18750,19000,19250,19500,19750,20000,20250,20500,20750,21000,21250,21500,21750,22000,22250,22500,22750,23000,23250,23500,23750,24000,24250,24500,24750,25000,25250,25500,25750,26000,26250,26500,26750,27000,27250,27500,27750,28000,28250,28500,28750,29000,29250,29500,29750,30000],
  "format": "d", "labelExpr": "datum.value % 2000 === 0 ? datum.label : ''", "labelOverlap": false, "labelFlush": false,
  "grid": true, "gridColor": {"condition": {"test": "datum.value % 2000 === 0", "value": "#00a000"}, "value": "#004600"}, "gridWidth": 1,
  "domain": false, "offset": 3, "tickSize": 6, "tickWidth": 1.5,
  "tickColor": {"condition": {"test": "datum.value % 2000 === 0", "value": "#303030"}, "value": "transparent"},
  "labelFont": "Liberation Sans", "labelFontSize": 16.5, "labelColor": "#1c1c1c", "labelPadding": 5,
  "titleFont": "Liberation Sans", "titleFontSize": 16, "titleFontWeight": "normal", "titleColor": "#1c1c1c", "titlePadding": 6}},
"y": {"field": "v", "type": "quantitative", "title": "μ",
 "scale": {"domain": [-6, 18], "nice": false, "zero": false},
 "axis": {"values": [-6,-5.5,-5,-4.5,-4,-3.5,-3,-2.5,-2,-1.5,-1,-0.5,0,0.5,1,1.5,2,2.5,3,3.5,4,4.5,5,5.5,6,6.5,7,7.5,8,8.5,9,9.5,10,10.5,11,11.5,12,12.5,13,13.5,14,14.5,15,15.5,16,16.5,17,17.5,18],
  "format": "d", "labelExpr": "datum.value % 2 === 0 ? datum.label : ''", "labelOverlap": false, "labelFlush": false,
  "grid": true, "gridColor": {"condition": {"test": "datum.value % 2 === 0", "value": "#00a000"}, "value": "#004600"}, "gridWidth": 1,
  "domain": false, "offset": 3, "tickSize": 6, "tickWidth": 1.5,
  "tickColor": {"condition": {"test": "datum.value % 2 === 0", "value": "#303030"}, "value": "transparent"},
  "labelFont": "Liberation Sans", "labelFontSize": 16.5, "labelColor": "#1c1c1c", "labelPadding": 4,
  "titleFont": "Liberation Sans", "titleFontSize": 16, "titleFontWeight": "normal", "titleColor": "#1c1c1c", "titlePadding": 10}},
"color": {"field": "s", "type": "nominal",
 "scale": {"domain": ["avg", "gaueg"], "range": ["#ffffff", "#ff3b3b"]},
 "legend": {"orient": "none", "legendX": 993, "legendY": -16,
  "title": " ", "titleOrient": "left", "titlePadding": 79, "titleFontSize": 1, "titleColor": "transparent",
  "fillColor": "#d2d2d2", "strokeColor": "#a8a8a8", "padding": 4,
  "symbolType": "M-0.85,0.3L-0.28,-0.3L0.28,0.3L0.85,-0.3M0.97,0.68", "symbolSize": 1936, "symbolStrokeWidth": 1.3,
  "labelOffset": -106, "labelFont": "Liberation Sans", "labelFontSize": 16, "labelColor": "#1c1c1c", "rowPadding": 0,
  "encode": {"entries": {"update": {"fill": {"value": "black"}}},
             "symbols": {"update": {"fill": {"value": "transparent"}, "y": {"value": 12}}},
             "labels": {"update": {"y": {"value": 12}}}}}}
}
}
